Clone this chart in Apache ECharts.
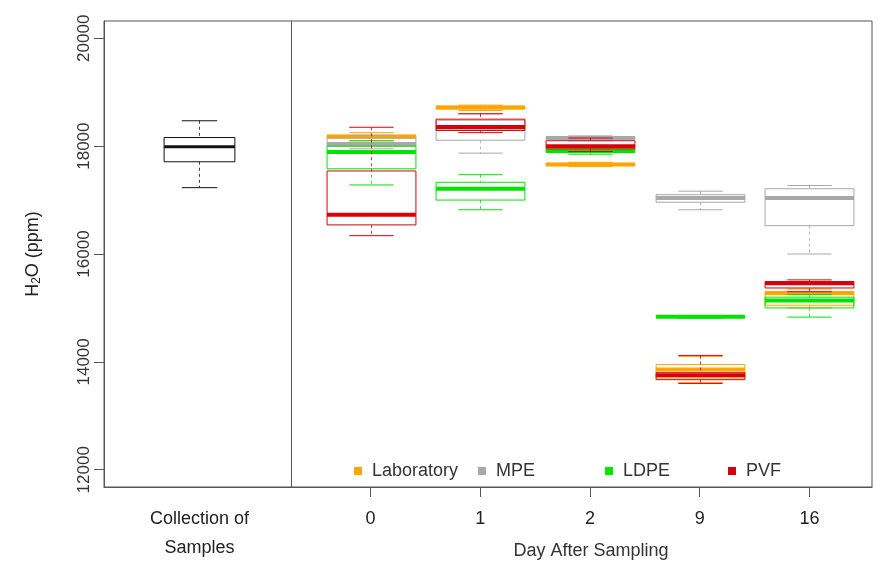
<!DOCTYPE html>
<html>
<head>
<meta charset="utf-8">
<script src="https://cdn.jsdelivr.net/npm/echarts@6/dist/echarts.min.js"></script>
<style>
html, body { margin: 0; padding: 0; background: #fff; }
#chart { width: 878px; height: 563px; }
</style>
</head>
<body>
<div id="chart"></div>
<script>
// x positions (axis units) of the groups
var dayLabels = ['0', '1', '2', '9', '16'];
var dayPos = [2.43, 3.43, 4.43, 5.43, 6.43];
var collectionPos = 0.87;
var dividerPos = 1.71;
var yTicks = [12000, 14000, 16000, 18000, 20000];
var seriesNames = ['Laboratory', 'MPE', 'LDPE', 'PVF'];

// each box: [min, Q1, median, Q3, max]
var collection = [17230, 17710, 17990, 18160, 18470];
var laboratory = [
	[18100, 18150, 18180, 18200, 18250],
	[18660, 18690, 18715, 18740, 18760],
	[17620, 17640, 17660, 17680, 17700],
	[13620, 13700, 13860, 13950, 14100],
	[15000, 15050, 15270, 15300, 15350]
];
var mpe = [
	[17950, 18000, 18040, 18150, 18200],
	[17870, 18110, 18340, 18480, 18600],
	[18100, 18130, 18150, 18170, 18190],
	[16820, 16960, 17040, 17100, 17165],
	[16000, 16525, 17040, 17210, 17270]
];
var ldpe = [
	[17280, 17580, 17890, 18000, 18100],
	[16820, 17000, 17210, 17330, 17470],
	[17850, 17880, 17910, 17940, 17970],
	[14810, 14825, 14835, 14845, 14860],
	[14830, 15000, 15140, 15200, 15250]
];
var pvf = [
	[16340, 16540, 16730, 17540, 18350],
	[18250, 18290, 18355, 18500, 18600],
	[17900, 17950, 18000, 18100, 18150],
	[13600, 13670, 13750, 13800, 14120],
	[15300, 15370, 15460, 15490, 15520]
];

var font = 'Liberation Sans, Arial, sans-serif';
var frameColor = '#555';

// box + dashed whiskers + thick median, R boxplot look
function boxRender(color, boxW, medianW) {
	return function (params, api) {
		var x = api.value(0);
		var pMin = api.coord([x, api.value(1)]);
		var pQ1 = api.coord([x, api.value(2)]);
		var pMed = api.coord([x, api.value(3)]);
		var pQ3 = api.coord([x, api.value(4)]);
		var pMax = api.coord([x, api.value(5)]);
		var hw = api.size([boxW, 0])[0] / 2;
		var cx = Math.round(pMed[0]) + 0.5;
		var dash = { stroke: color, lineWidth: 1, lineDash: [3, 3], opacity: 0.8 };
		var solid = { stroke: color, lineWidth: 1 };
		return {
			type: 'group',
			children: [
				{ type: 'line', shape: { x1: cx, y1: pMax[1], x2: cx, y2: pQ3[1] }, style: dash },
				{ type: 'line', shape: { x1: cx, y1: pQ1[1], x2: cx, y2: pMin[1] }, style: dash },
				{ type: 'line', shape: { x1: cx - hw / 2, y1: pMax[1], x2: cx + hw / 2, y2: pMax[1] }, style: solid },
				{ type: 'line', shape: { x1: cx - hw / 2, y1: pMin[1], x2: cx + hw / 2, y2: pMin[1] }, style: solid },
				{ type: 'rect', shape: { x: cx - hw, y: pQ3[1], width: 2 * hw, height: pQ1[1] - pQ3[1] },
					style: { fill: 'none', stroke: color, lineWidth: 1 } },
				{ type: 'line', shape: { x1: cx - hw, y1: pMed[1], x2: cx + hw, y2: pMed[1] },
					style: { stroke: color, lineWidth: medianW } }
			]
		};
	};
}

function daySeries(name, color, boxes) {
	return {
		name: name,
		type: 'custom',
		itemStyle: { color: color },
		renderItem: boxRender(color, 0.81, 4),
		encode: { x: 0, y: [1, 2, 3, 4, 5] },
		data: boxes.map(function (b, i) { return [dayPos[i]].concat(b); })
	};
}

// one legend per entry so the keys sit at R's spacing
var legendLeft = [349, 473, 600, 723];
var legends = seriesNames.map(function (n, i) {
	return {
		data: [n], left: legendLeft[i], top: 457,
		icon: 'rect', itemWidth: 8, itemHeight: 8,
		formatter: '{w|{name}}',
		textStyle: {
			fontSize: 18, color: '#333', fontFamily: font,
			rich: { w: { fontSize: 18, color: '#333', fontFamily: font, padding: [0, 0, 0, 5] } }
		}
	};
});

var chart = echarts.init(document.getElementById('chart'));
var option = {
	animation: false,
	textStyle: { fontFamily: font },
	grid: { left: 104, right: 6, top: 21, bottom: 75, show: true, borderColor: frameColor, borderWidth: 1 },
	legend: legends,
	xAxis: {
		type: 'value', min: 0, max: 7,
		splitLine: { show: false },
		axisLine: { show: true, lineStyle: { color: frameColor } },
		axisTick: { show: true, customValues: dayPos, length: 10, lineStyle: { color: frameColor } },
		axisLabel: {
			customValues: [collectionPos].concat(dayPos),
			formatter: function (v) {
				if (Math.abs(v - collectionPos) < 1e-6) return 'Collection of\nSamples';
				for (var i = 0; i < dayPos.length; i++) {
					if (Math.abs(v - dayPos[i]) < 1e-6) return dayLabels[i];
				}
				return '';
			},
			margin: 18, lineHeight: 29, fontSize: 18, color: '#222', fontFamily: font
		}
	},
	yAxis: {
		type: 'value', min: 11680, max: 20320,
		splitLine: { show: false },
		axisLine: { show: true, lineStyle: { color: frameColor } },
		axisTick: { show: true, customValues: yTicks, length: 10, lineStyle: { color: frameColor } },
		axisLabel: {
			customValues: yTicks, rotate: 90, margin: 11, fontSize: 17, color: '#333', fontFamily: font,
			formatter: function (v) { return String(v); }
		},
		name: '{a|H}{s|2}{a|O (ppm)}',
		nameLocation: 'middle',
		nameGap: 61,
		nameTextStyle: {
			rich: {
				a: { fontSize: 18, color: '#222', fontFamily: font },
				s: { fontSize: 12, color: '#222', fontFamily: font, verticalAlign: 'bottom', padding: [8, 0, 0, 0] }
			}
		}
	},
	graphic: [{
		type: 'text', x: 591, y: 551,
		style: { text: 'Day After Sampling', fontSize: 18, fill: '#333', fontFamily: font, textAlign: 'center', textVerticalAlign: 'middle' }
	}],
	series: [
		{
			name: 'Collection',
			type: 'custom',
			itemStyle: { color: '#000' },
			renderItem: boxRender('#111', 0.645, 3),
			encode: { x: 0, y: [1, 2, 3, 4, 5] },
			data: [[collectionPos].concat(collection)],
			markLine: {
				silent: true, symbol: ['none', 'none'], label: { show: false },
				lineStyle: { color: frameColor, type: 'solid', width: 1 },
				data: [{ xAxis: dividerPos }]
			}
		},
		daySeries('Laboratory', '#FFA500', laboratory),
		daySeries('MPE', '#A8A8A8', mpe),
		daySeries('LDPE', '#00E400', ldpe),
		daySeries('PVF', '#D8000A', pvf)
	]
};
chart.setOption(option);
</script>
</body>
</html>
